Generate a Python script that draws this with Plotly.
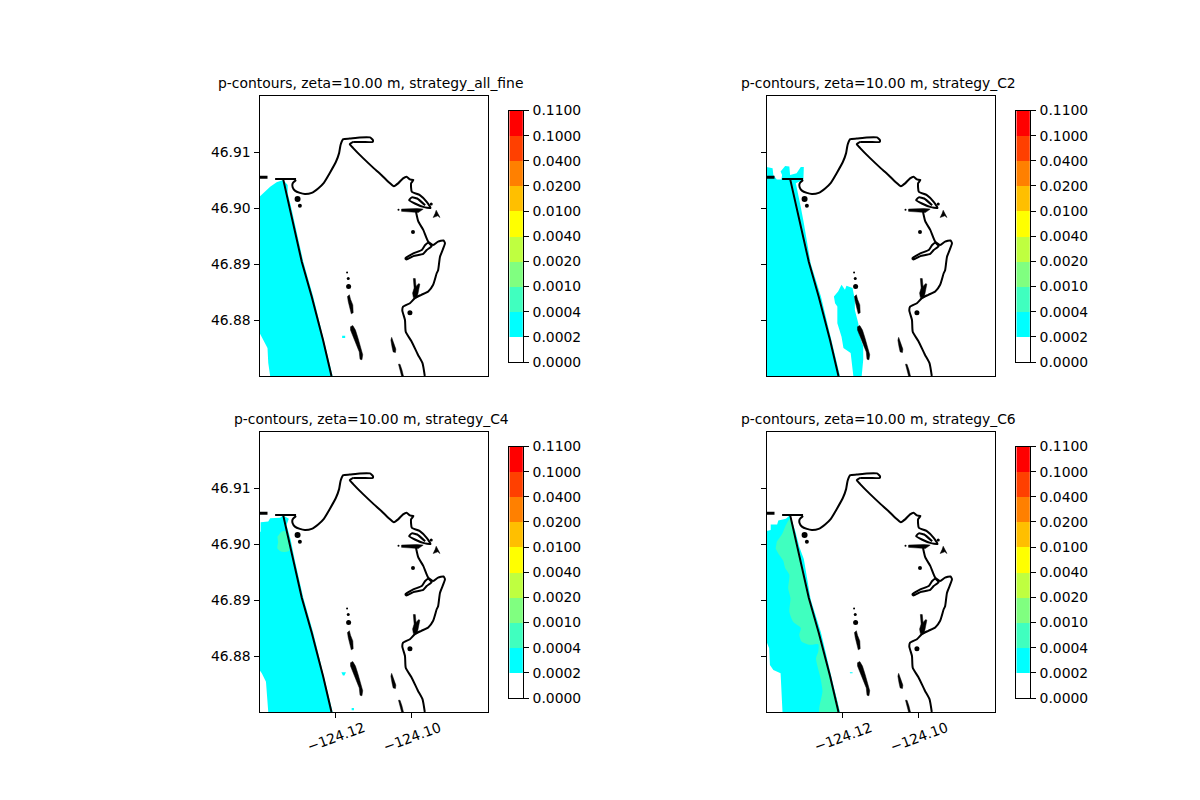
import plotly.graph_objects as go

# Strategy names and contour levels
strategies = ["strategy_all_fine", "strategy_C2", "strategy_C4", "strategy_C6"]
levels = [0.0, 0.0002, 0.0004, 0.001, 0.002, 0.004, 0.01, 0.02, 0.04, 0.1, 0.11]
band_colors = ["#ffffff", "#00ffff", "#40ffbf", "#80ff80", "#bfff40",
               "#ffff00", "#ffbf00", "#ff8000", "#ff4000", "#ff0000"]

lat_ticks = [46.88, 46.89, 46.90, 46.91]
lon_ticks = [-124.12, -124.10]
lon_tick_labels = ["\u2212124.12", "\u2212124.10"]

# Shoreline
coast_lon = [-124.1304, -124.1313, -124.1313, -124.1307, -124.1294, -124.1281, -124.1263, -124.1246,
             -124.1231, -124.1215, -124.1199, -124.1191, -124.1187, -124.1180, -124.1163, -124.1137,
             -124.1110, -124.1102, -124.1103, -124.1128, -124.1154, None,
             -124.1154, -124.1163, -124.1154, -124.1128,
             -124.1103, -124.1080, -124.1062, -124.1047, -124.1036, -124.1023, -124.1014, -124.1005,
             -124.0996, -124.1002, -124.1000, -124.0979, -124.0961, -124.0951, -124.0970, -124.0992,
             -124.1007, -124.1000, -124.0986, -124.0965, None,
             -124.0989, -124.0983, -124.0970, -124.0957, -124.0944, -124.0931, -124.0917, -124.0913,
             -124.0926, -124.0931, -124.0935, -124.0944, -124.0957, -124.0975, -124.0992,
             -124.1005, -124.1023, -124.1025, -124.1018, -124.1016, -124.1001, -124.0984, -124.0972,
             -124.0966, None,
             -124.1017, -124.0996, -124.0974, -124.0965, -124.0957, -124.0948, -124.0961, -124.0970,
             -124.0996, -124.1014, -124.1017]
coast_lat = [46.9050, 46.9044, 46.9037, 46.9031, 46.9027, 46.9025, 46.9027, 46.9035,
             46.9045, 46.9063, 46.9083, 46.9098, 46.9113, 46.9123, 46.9124, 46.9126,
             46.9126, 46.9121, 46.9118, 46.9118, 46.9118, None,
             46.9118, 46.9114, 46.9107, 46.9089,
             46.9073, 46.9059, 46.9047, 46.9039, 46.9044, 46.9053, 46.9056, 46.9051,
             46.9050, 46.9044, 46.9029, 46.9023, 46.9011, 46.9000, 46.9002, 46.9008,
             46.9014, 46.9019, 46.9017, 46.9005, None,
             46.8993, 46.8976, 46.8961, 46.8940, 46.8934, 46.8940, 46.8942, 46.8937,
             46.8913, 46.8889, 46.8883, 46.8863, 46.8851, 46.8845, 46.8839,
             46.8830, 46.8824, 46.8817, 46.8800, 46.8779, 46.8762, 46.8738, 46.8723,
             46.8700, None,
             46.8910, 46.8919, 46.8925, 46.8934, 46.8938, 46.8932, 46.8925, 46.8918,
             46.8914, 46.8908, 46.8910]

# Jetty
jetty_lon = [-124.1359, -124.1304, None, -124.1338, -124.1311, -124.1289, -124.1263, -124.1233, -124.1211]
jetty_lat = [46.9052, 46.9052, None, 46.9052, 46.8973, 46.8904, 46.8842, 46.8764, 46.8700]
bar_lon = [-124.1400, -124.1379]
bar_lat = [46.9055, 46.9055]

# Islands, closed outlines
island_lon = [-124.1164, -124.1161, -124.1155, -124.1154, -124.1159, -124.1162, -124.1167, -124.1169, -124.1164, None,
              -124.1155, -124.1148, -124.1141, -124.1134, -124.1129, -124.1131, -124.1136, -124.1138,
              -124.1145, -124.1152, -124.1161, -124.1161, -124.1155, None,
              -124.1053, -124.1049, -124.1042, -124.1043, -124.1049, -124.1052, -124.1055, -124.1053, None,
              -124.1035, -124.1031, -124.1026, -124.1022, -124.1027, -124.1032, -124.1035, None,
              -124.0996, -124.0991, -124.0989, -124.0982, -124.0979, -124.0983, -124.0986, -124.0996,
              -124.0998, -124.0994, -124.0996, None,
              -124.1027, -124.0987, -124.0970, -124.0983, -124.1027, -124.1027, None,
              -124.0936, -124.0931, -124.0926, -124.0932, -124.0944, -124.0939, -124.0936]
island_lat = [46.8845, 46.8837, 46.8827, 46.8813, 46.8811, 46.8818, 46.8833, 46.8842, 46.8845, None,
              46.8790, 46.8782, 46.8767, 46.8751, 46.8738, 46.8729, 46.8730, 46.8743,
              46.8755, 46.8769, 46.8782, 46.8788, 46.8790, None,
              46.8769, 46.8761, 46.8748, 46.8742, 46.8743, 46.8752, 46.8764, 46.8769, None,
              46.8721, 46.8721, 46.8711, 46.8700, 46.8700, 46.8711, 46.8721, None,
              46.8874, 46.8874, 46.8860, 46.8865, 46.8864, 46.8848, 46.8840, 46.8840,
              46.8848, 46.8857, 46.8874, None,
              46.8998, 46.8999, 46.8998, 46.8992, 46.8994, 46.8998, None,
              46.8996, 46.8990, 46.8983, 46.8986, 46.8983, 46.8990, 46.8996]

# Small rocks
rock_lon = [-124.1300, -124.1294, -124.0997, -124.1005, -124.0949, -124.1170, -124.1167, -124.1166, -124.1035]
rock_lat = [46.9016, 46.9004, 46.8957, 46.8813, 46.9007, 46.8885, 46.8874, 46.8860, 46.8997]
rock_size = [6, 4, 4, 5, 3, 2, 3, 5, 2]

# Filled bands for each strategy
fine_cyan_lon = [-124.1400, -124.1386, -124.1372, -124.1355, -124.1338, -124.1326, -124.1326, -124.1318,
                 -124.1307, -124.1285, -124.1259, -124.1231, -124.1208, -124.1372, -124.1377, -124.1379,
                 -124.1392, -124.1399, -124.1400, None,
                 -124.1183, -124.1175, -124.1175, -124.1183]
fine_cyan_lat = [46.9020, 46.9029, 46.9038, 46.9046, 46.9050, 46.9041, 46.9026, 46.9005,
                 46.8970, 46.8904, 46.8842, 46.8764, 46.8700, 46.8700, 46.8723, 46.8750,
                 46.8767, 46.8776, 46.8794, None,
                 46.8772, 46.8772, 46.8768, 46.8768]

c2_cyan_lon = [-124.1400, -124.1384, -124.1382, -124.1377, -124.1373, -124.1361, -124.1359, -124.1363,
               -124.1351, -124.1340, -124.1338, -124.1321, -124.1310, -124.1302, -124.1303, -124.1323,
               -124.1317, -124.1310, -124.1302, -124.1284, -124.1257, -124.1230, -124.1207, -124.1400, None,
               -124.1223, -124.1212, -124.1203, -124.1194, -124.1190, -124.1174, -124.1168, -124.1168,
               -124.1159, -124.1155, -124.1146, -124.1146, -124.1150, -124.1172, -124.1179, -124.1198,
               -124.1203, -124.1214, -124.1214, -124.1220]
c2_cyan_lat = [46.9073, 46.9071, 46.9059, 46.9055, 46.9051, 46.9051, 46.9059, 46.9065,
               46.9075, 46.9074, 46.9059, 46.9062, 46.9073, 46.9073, 46.9051, 46.9044,
               46.9026, 46.9002, 46.8973, 46.8901, 46.8842, 46.8764, 46.8700, 46.8700, None,
               46.8842, 46.8851, 46.8863, 46.8854, 46.8861, 46.8857, 46.8836, 46.8818,
               46.8794, 46.8770, 46.8753, 46.8729, 46.8700, 46.8700, 46.8741, 46.8750,
               46.8770, 46.8794, 46.8824, 46.8830]

c4_cyan_lon = [-124.1397, -124.1397, -124.1377, -124.1372, -124.1346, -124.1338, -124.1323, -124.1329,
               -124.1318, -124.1307, -124.1285, -124.1259, -124.1231, -124.1208, -124.1377, -124.1379,
               -124.1383, -124.1394, -124.1400, -124.1400, None,
               -124.1185, -124.1173, -124.1177, -124.1181, None,
               -124.1158, -124.1152, -124.1152, -124.1158]
c4_cyan_lat = [46.9022, 46.9039, 46.9040, 46.9046, 46.9047, 46.9051, 46.9045, 46.9034,
               46.9007, 46.8970, 46.8904, 46.8842, 46.8764, 46.8700, 46.8700, 46.8725,
               46.8754, 46.8769, 46.8775, 46.9022, None,
               46.8771, 46.8771, 46.8765, 46.8765, None,
               46.8707, 46.8707, 46.8703, 46.8703]
c4_green_lon = [-124.1353, -124.1342, -124.1333, -124.1322, -124.1342, -124.1353, -124.1351]
c4_green_lat = [46.9013, 46.9022, 46.9023, 46.8988, 46.8986, 46.8992, 46.9003]

c6_cyan_lon = [-124.1400, -124.1389, -124.1389, -124.1372, -124.1369, -124.1349, -124.1338, -124.1324,
               -124.1314, -124.1302, -124.1284, -124.1257, -124.1230, -124.1207, -124.1358, -124.1360,
               -124.1363, -124.1382, -124.1391, -124.1393, -124.1400, None,
               -124.1181, -124.1174, -124.1174, -124.1181]
c6_cyan_lat = [46.9023, 46.9025, 46.9035, 46.9035, 46.9042, 46.9045, 46.9052, 46.9022,
               46.8995, 46.8973, 46.8901, 46.8842, 46.8764, 46.8700, 46.8700, 46.8742,
               46.8769, 46.8775, 46.8784, 46.8814, 46.8826, None,
               46.8771, 46.8771, 46.8769, 46.8769]
c6_green_lon = [-124.1373, -124.1358, -124.1351, -124.1337, -124.1311, -124.1289, -124.1263, -124.1233,
                -124.1211, -124.1261, -124.1253, -124.1258, -124.1270, -124.1264, -124.1264, -124.1286,
                -124.1308, -124.1314, -124.1310, -124.1330, -124.1340, -124.1337, -124.1343, -124.1340,
                -124.1351, -124.1356, -124.1369, -124.1376]
c6_green_lat = [46.9004, 46.9019, 46.9031, 46.9046, 46.8973, 46.8904, 46.8842, 46.8764,
                46.8700, 46.8700, 46.8737, 46.8760, 46.8796, 46.8808, 46.8821, 46.8820,
                46.8826, 46.8838, 46.8850, 46.8861, 46.8879, 46.8903, 46.8921, 46.8945,
                46.8957, 46.8970, 46.8983, 46.8992]

bands = [
    [(fine_cyan_lon, fine_cyan_lat, band_colors[1], "linear")],
    [(c2_cyan_lon, c2_cyan_lat, band_colors[1], "linear")],
    [(c4_cyan_lon, c4_cyan_lat, band_colors[1], "linear"), (c4_green_lon, c4_green_lat, band_colors[2], "spline")],
    [(c6_cyan_lon, c6_cyan_lat, band_colors[1], "linear"), (c6_green_lon, c6_green_lat, band_colors[2], "spline")],
]

W = 1200.0
H = 800.0
FONT = "DejaVu Sans"
# pixel boxes of the map axes: left, right, top, bottom
boxes = [(259.5, 488, 96, 376), (766.5, 995, 96, 376), (259.5, 488, 432, 712), (766.5, 995, 432, 712)]
title_x = [370.5, 878.5, 371.5, 878.5]

fig = go.Figure()
layout = {}
annotations = []

# one stepped colorscale for the colorbar cells
scale = []
for i, c in enumerate(band_colors):
    scale.append([i / len(band_colors), c])
    scale.append([(i + 1) / len(band_colors), c])

for p in range(4):
    left, right, top, bottom = boxes[p]
    xname = "x%d" % (p + 1)
    yname = "y%d" % (p + 1)
    cbx = "x%d" % (p + 5)
    cby = "y%d" % (p + 5)

    for lon, lat, color, shape in bands[p]:
        fig.add_trace(go.Scatter(x=lon, y=lat, mode="lines", fill="toself", fillcolor=color,
                                 line=dict(width=0, shape=shape, smoothing=0.6),
                                 hoverinfo="skip", xaxis=xname, yaxis=yname))
    fig.add_trace(go.Scatter(x=island_lon, y=island_lat, mode="lines", fill="toself", fillcolor="black",
                             line=dict(color="black", width=0.5), xaxis=xname, yaxis=yname))
    fig.add_trace(go.Scatter(x=coast_lon, y=coast_lat, mode="lines",
                             line=dict(color="black", width=2, shape="spline", smoothing=0.5),
                             xaxis=xname, yaxis=yname))
    fig.add_trace(go.Scatter(x=jetty_lon, y=jetty_lat, mode="lines", line=dict(color="black", width=2),
                             xaxis=xname, yaxis=yname))
    fig.add_trace(go.Scatter(x=bar_lon, y=bar_lat, mode="lines", line=dict(color="black", width=3),
                             xaxis=xname, yaxis=yname))
    fig.add_trace(go.Scatter(x=rock_lon, y=rock_lat, mode="markers",
                             marker=dict(color="black", size=rock_size, opacity=1, line=dict(width=0)),
                             xaxis=xname, yaxis=yname))

    # colorbar drawn as a one column heatmap
    fig.add_trace(go.Heatmap(z=[[i] for i in range(len(band_colors))], x=[0],
                             y=[i + 0.5 for i in range(len(band_colors))],
                             colorscale=scale, zmin=-0.5, zmax=len(band_colors) - 0.5,
                             showscale=False, xaxis=cbx, yaxis=cby))

    bottom_row = p >= 2
    left_col = p % 2 == 0
    layout["xaxis%d" % (p + 1)] = dict(
        domain=[left / W, right / W], range=[-124.14, -124.08], anchor=yname, automargin=False,
        showgrid=False, zeroline=False, showline=True, mirror=True, linecolor="black", linewidth=1,
        tickmode="array", tickvals=lon_ticks if bottom_row else [], showticklabels=False,
        ticks="outside" if bottom_row else "", ticklen=5, tickwidth=1, tickcolor="black")
    layout["yaxis%d" % (p + 1)] = dict(
        domain=[1 - bottom / H, 1 - top / H], range=[46.87, 46.92], anchor=xname, automargin=False,
        showgrid=False, zeroline=False, showline=True, mirror=True, linecolor="black", linewidth=1,
        tickmode="array", tickvals=lat_ticks, ticktext=["%.2f" % v for v in lat_ticks],
        showticklabels=left_col, ticks="outside", ticklen=5, tickwidth=1, tickcolor="black",
        tickfont=dict(family=FONT, size=13.9, color="black"))

    cb_left = left + 249.8
    cb_top = top + 14.5
    layout["xaxis%d" % (p + 5)] = dict(
        domain=[cb_left / W, (cb_left + 13.5) / W], range=[-0.5, 0.5], anchor=cby, automargin=False,
        showgrid=False, zeroline=False, showline=True, mirror=True, linecolor="black", linewidth=1,
        showticklabels=False, ticks="")
    layout["yaxis%d" % (p + 5)] = dict(
        domain=[1 - (cb_top + 251.5) / H, 1 - cb_top / H], range=[0, len(band_colors)], anchor=cbx, side="right",
        automargin=False,
        showgrid=False, zeroline=False, showline=True, mirror=True, linecolor="black", linewidth=1,
        tickmode="array", tickvals=list(range(len(levels))), ticktext=["%.4f" % v for v in levels],
        ticks="outside", ticklen=5, tickwidth=1, tickcolor="black", ticklabelstandoff=1,
        tickfont=dict(family=FONT, size=13.9, color="black"))

    annotations.append(dict(
        text="p-contours, zeta=10.00 m, " + strategies[p], showarrow=False,
        xref="paper", yref="paper", x=title_x[p] / W, y=1 - (top - 13) / H,
        xanchor="center", yanchor="middle", font=dict(family=FONT, size=13.9, color="black")))

    if bottom_row:
        for v, t in zip(lon_ticks, lon_tick_labels):
            annotations.append(dict(
                text=t, showarrow=False, textangle=-20, xref=xname, yref="paper", x=v, y=1 - 737 / H,
                xanchor="center", yanchor="middle", font=dict(family=FONT, size=13.9, color="black")))

fig.update_layout(width=1200, height=800, margin=dict(l=0, r=0, t=0, b=0), autosize=False,
                  showlegend=False, plot_bgcolor="white", paper_bgcolor="white",
                  annotations=annotations, **layout)

fig.write_html("out.html", config=dict(displayModeBar=False),
               post_script="document.body.style.margin='0';")
